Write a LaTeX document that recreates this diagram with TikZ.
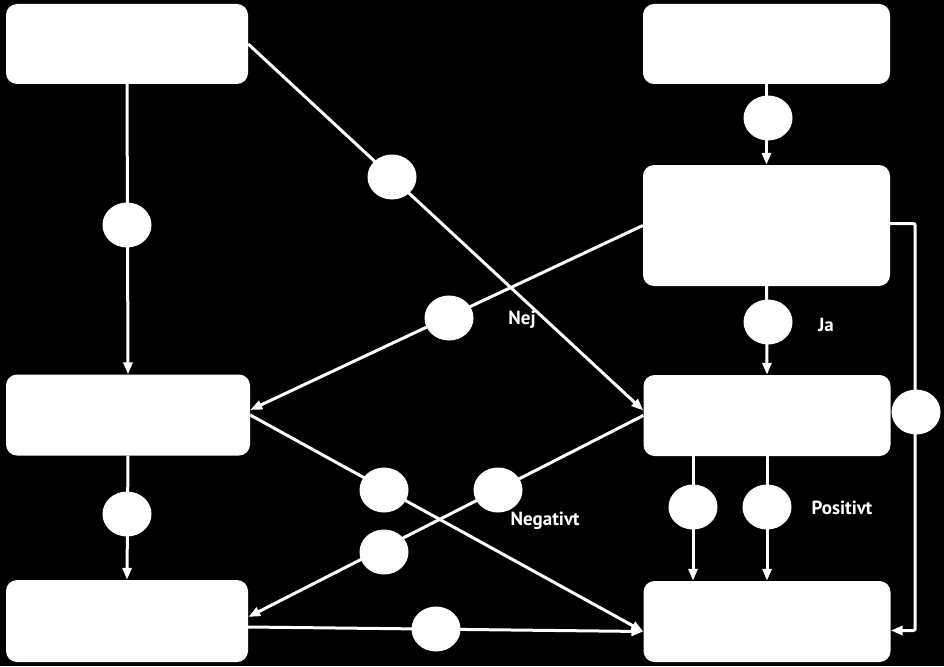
\documentclass[tikz,border=0pt]{standalone}
\usepackage{fontspec}
\setmainfont{PT Sans}
\usetikzlibrary{arrows.meta,shapes.geometric}
\begin{document}
\begin{tikzpicture}[x=1pt,y=-1pt,
  box/.style={fill=white,draw=none,rounded corners=11pt,inner sep=0pt},
  ell/.style={shape=ellipse,fill=white,draw=none,minimum width=49pt,minimum height=45pt,inner sep=0pt},
  conn/.style={draw=white,line width=3pt,-{Triangle[length=12pt,width=9pt]}},
  lab/.style={text=white,font=\bfseries\fontsize{19}{21}\selectfont,inner sep=0pt}]
\fill[black] (0,0) rectangle (944,666);
\useasboundingbox (0,0) rectangle (944,666);
% boxes
\node[box,minimum width=242pt,minimum height=80pt] (A) at (127,44) {};
\node[box,minimum width=247pt,minimum height=80pt] (B) at (766.5,44) {};
\node[box,minimum width=247pt,minimum height=121pt] (C) at (766.5,225.5) {};
\node[box,minimum width=244pt,minimum height=81pt] (D) at (128,415) {};
\node[box,minimum width=247pt,minimum height=81pt] (E) at (767,415.5) {};
\node[box,minimum width=242pt,minimum height=82pt] (F) at (127,621) {};
\node[box,minimum width=247pt,minimum height=81pt] (G) at (767,621.5) {};
% connectors
\draw[conn] (A.south) -- (D.north);
\draw[conn] (A.east) -- ([yshift=5pt]E.west);
\draw[conn] (C.west) -- ([yshift=5pt]D.east);
\draw[conn] (B.south) -- (C.north);
\draw[conn] (C.south) -- (E.north);
\draw[conn,rounded corners=2pt] ([yshift=2pt]C.east) -- ++(25,0) |- ([yshift=-9pt]G.east);
\draw[conn] (D.east) -- ([yshift=-10pt]G.west);
\draw[conn] (E.west) -- ([yshift=4pt]F.east);
\draw[conn] ([yshift=-6pt]F.east) -- ([yshift=-10pt]G.west);
\draw[conn] (D.south) -- (F.north);
\draw[conn] ([xshift=-74pt]E.south) -- ([xshift=-74pt]G.north);
\draw[conn] (E.south) -- (G.north);
% ellipses
\node[ell] (e1) at (127,225) {};
\node[ell] (e2) at (392,177) {};
\node[ell] (e3) at (768,118) {};
\node[ell] (e4) at (449,318) {};
\node[ell] (e5) at (768,322) {};
\node[ell] (e6) at (916,412) {};
\node[ell] (e7) at (127,514) {};
\node[ell] (e8) at (384,490) {};
\node[ell] (e9) at (498,490) {};
\node[ell] (e10) at (384,552) {};
\node[ell] (e11) at (436,629) {};
\node[ell] (e12) at (693,507) {};
\node[ell] (e13) at (767,507) {};
% labels
\node[lab] (lnej) at (522,320) {Nej};
\node[lab] (lja) at (826,325) {Ja};
\node[lab] (lpos) at (842,508) {Positivt};
\node[lab] (lneg) at (545,521) {Negativt};
\end{tikzpicture}
\end{document}
